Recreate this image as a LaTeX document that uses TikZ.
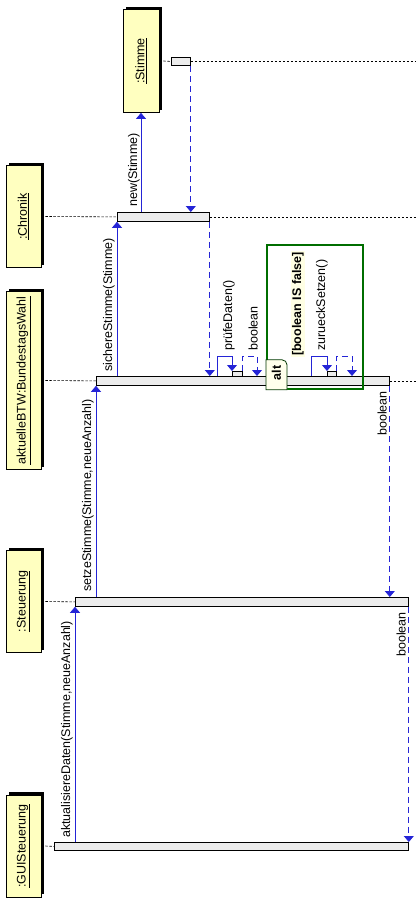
\documentclass[tikz,border=0pt]{standalone}
\usepackage{fontspec}
\setmainfont{Liberation Sans}
\usepackage{tikz}
\usetikzlibrary{arrows.meta, shadows}
\definecolor{objyellow}{RGB}{255,255,192}
\definecolor{msgblue}{RGB}{36,36,214}
\definecolor{altgreen}{RGB}{0,110,0}
\definecolor{guardbg}{RGB}{255,255,228}
\definecolor{tabfill}{RGB}{255,255,236}

\begin{document}
\begin{tikzpicture}[x=1pt, y=-1pt,
        font=\fontsize{12.5}{15}\selectfont,
        object/.style={draw, line width=0.8pt, fill=objyellow, minimum width=35pt, inner sep=0pt,
            drop shadow={shadow xshift=3pt, shadow yshift=3pt, fill=black, opacity=1}},
        bar/.style={draw, line width=0.8pt, fill=gray!15, anchor=north west, inner sep=0pt},
        lifeline/.style={dash pattern=on 2.5pt off 1.5pt, line width=0.6pt},
        msg/.style={msgblue, line width=0.8pt, -{Triangle[width=10pt,length=6pt]}},
        ret/.style={msgblue, line width=0.8pt, dash pattern=on 6pt off 4pt, -{Triangle[width=10pt,length=6pt]}},
        lbl/.style={rotate=90, inner sep=1pt}]
        \useasboundingbox (0,0) rectangle (416,913);
        \coordinate (rim) at (416,0);

        % objects
        \node[object, minimum width=36pt, minimum height=103pt] (stimme) at (141,61) {\rotatebox{90}{\underline{:Stimme}}};
        \node[object, minimum height=102pt] (chronik) at (23.5,216.5) {\rotatebox{90}{\underline{:Chronik}}};
        \node[object, minimum height=178pt] (btw) at (23.5,380.5) {\rotatebox{90}{\underline{aktuelleBTW:BundestagsWahl}}};
        \node[object, minimum height=102pt] (steuerung) at (23.5,601.5) {\rotatebox{90}{\underline{:Steuerung}}};
        \node[object, minimum height=102pt] (gui) at (23.5,846) {\rotatebox{90}{\underline{:GUISteuerung}}};

        % activation bars
        \node[bar, minimum width=19pt, minimum height=8pt] (stimmebar) at (171,57) {};
        \node[bar, minimum width=92pt, minimum height=9pt] (chronikbar) at (117,212) {};
        \node[bar, minimum width=293pt, minimum height=9pt] (btwbar) at (96,376) {};
        \node[bar, minimum width=333pt, minimum height=9pt] (steuerbar) at (75,597) {};
        \node[bar, minimum width=354pt, minimum height=8pt] (guibar) at (54,842) {};

        % lifelines
        \draw[lifeline] ([xshift=4pt]stimme.east) -- (stimmebar.west);
        \draw[lifeline] (stimmebar.east) -- (stimmebar.east -| rim);
        \draw[lifeline] ([xshift=4pt]chronik.east) -- (chronikbar.west);
        \draw[lifeline] (chronikbar.east) -- (chronikbar.east -| rim);
        \draw[lifeline] ([xshift=4pt]btw.east) -- (btwbar.west);
        \draw[lifeline] (btwbar.east) -- (btwbar.east -| rim);
        \draw[lifeline] ([xshift=4pt]steuerung.east) -- (steuerbar.west);
        \draw[lifeline] ([xshift=4pt]gui.east) -- (guibar.west);

        % calls
        \draw[msg] (guibar.north -| steuerbar.south west) -- (steuerbar.south west);
        \node[lbl, anchor=south west] (aktlbl) at (74,839) {aktualisiereDaten(Stimme,neueAnzahl)};
        \draw[msg] (steuerbar.north -| btwbar.south west) -- (btwbar.south west);
        \node[lbl, anchor=south west] (setzelbl) at (95,593) {setzeStimme(Stimme,neueAnzahl)};
        \draw[msg] (btwbar.north -| chronikbar.south west) -- (chronikbar.south west);
        \node[lbl, anchor=south west] (sicherlbl) at (116,373) {sichereStimme(Stimme)};
        \draw[msg] (chronikbar.north -| stimme.south) -- (stimme.south);
        \node[lbl, anchor=south west] (newlbl) at (141,208) {new(Stimme)};

        % returns
        \draw[ret] (stimmebar.south east) -- (stimmebar.south east |- chronikbar.north);
        \draw[ret] (chronikbar.south east) -- (chronikbar.south east |- btwbar.north);
        \draw[ret] (btwbar.south east) -- (btwbar.south east |- steuerbar.north);
        \node[lbl, anchor=south east] (boollbl1) at (388,390) {boolean};
        \draw[ret] (steuerbar.south east) -- (steuerbar.south east |- guibar.north);
        \node[lbl, anchor=south east] (boollbl2) at (407,611) {boolean};

        % self call pruefeDaten
        \node[bar, minimum width=10pt, minimum height=5pt] (pruefbar) at (232,371) {};
        \coordinate (pr1) at (217,356);
        \coordinate (pr2) at (257,356);
        \draw[msg] (btwbar.north -| pr1) -- (pr1) -| (pruefbar.north west);
        \draw[ret] (pruefbar.north east) |- (pr2) -- (btwbar.north -| pr2);
        \node[lbl, anchor=south west] (prlbl) at (236,352) {prüfeDaten()};
        \node[lbl, anchor=south west] (boollbl3) at (259,352) {boolean};

        % alt fragment
        \node[draw=altgreen, line width=1.8pt, anchor=north west, minimum width=96pt, minimum height=144pt, inner sep=0pt] (altbox) at (266,244) {};
        \draw[draw=altgreen!50!black, fill=tabfill, line width=0.8pt] (altbox.south west) -- ++(0,-30) -- ++(16,0)
            to[out=0, in=90] ++(5,5) -- ++(0,25) -- cycle;
        \node[rotate=90, font=\fontsize{12.5}{15}\selectfont\bfseries] (altlbl) at (276.5,373) {alt};
        \node[lbl, anchor=south west, fill=guardbg, font=\fontsize{12.5}{15}\selectfont\bfseries] (guard) at (305,357) {[boolean IS false]};

        % self call zurueckSetzen
        \node[bar, minimum width=9pt, minimum height=5pt] (zurueckbar) at (327,371) {};
        \coordinate (zu1) at (311,356);
        \coordinate (zu2) at (352,356);
        \draw[msg] (btwbar.north -| zu1) -- (zu1) -| (zurueckbar.north west);
        \draw[ret] (zurueckbar.north east) |- (zu2) -- (btwbar.north -| zu2);
        \node[lbl, anchor=south west] (zulbl) at (329,352) {zurueckSetzen()};

    \end{tikzpicture}
\end{document}
